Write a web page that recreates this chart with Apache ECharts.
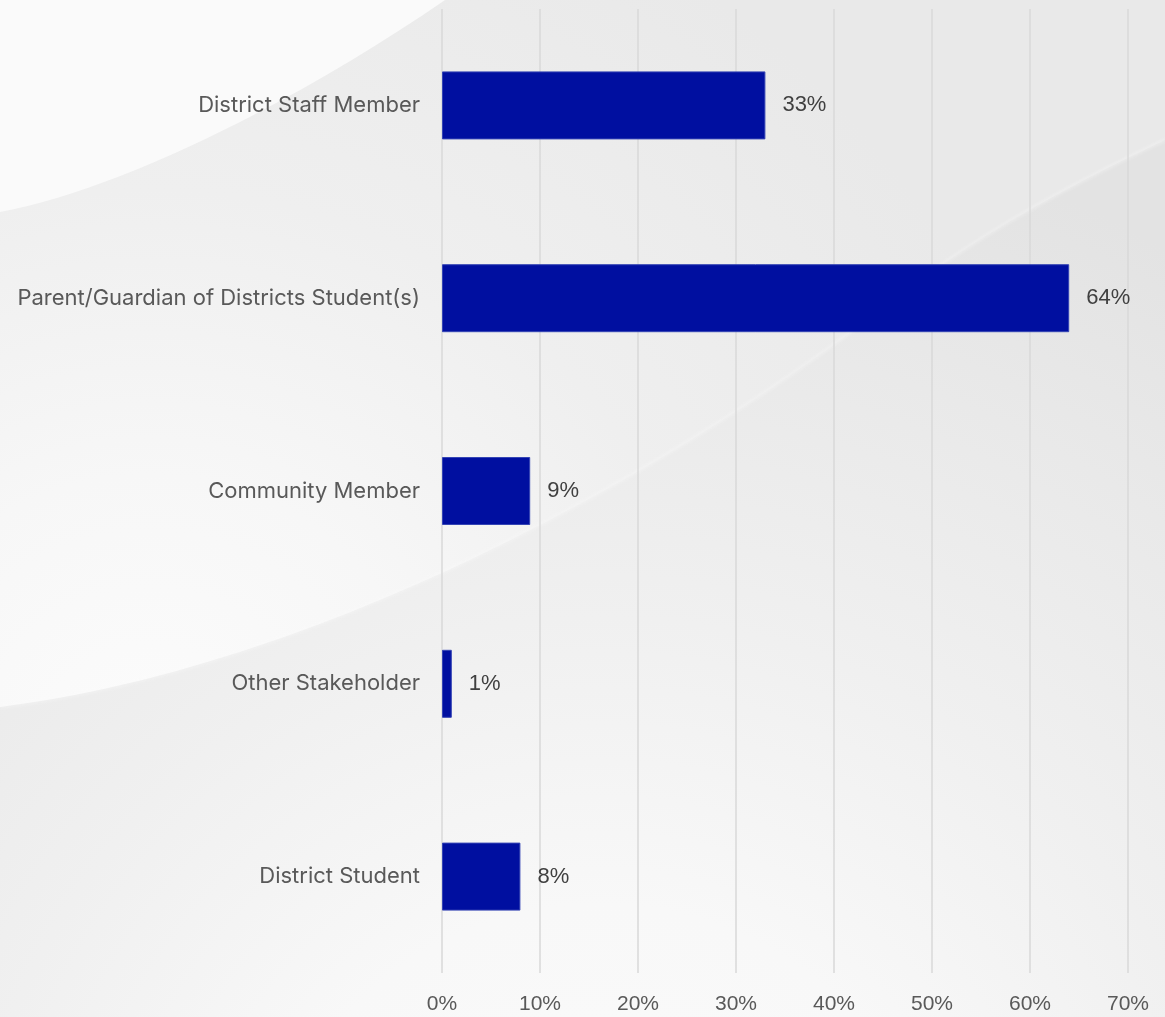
<!DOCTYPE html>
<html>
<head>
<meta charset="utf-8">
<script src="https://cdn.jsdelivr.net/npm/echarts@6/dist/echarts.min.js"></script>
<style>
  html, body { margin: 0; padding: 0; width: 1165px; height: 1017px; overflow: hidden; background: #eeeeee; }
  #bg { position: absolute; left: 0; top: 0; }
  #chart { position: absolute; left: 0; top: 0; width: 1165px; height: 1017px; }
</style>
</head>
<body>
<!-- soft grey backdrop with two sweeping light curves -->
<svg id="bg" width="1165" height="1017" xmlns="http://www.w3.org/2000/svg">
  <defs>
    <radialGradient id="upper" gradientUnits="userSpaceOnUse" cx="150" cy="760" r="950">
      <stop offset="0" stop-color="#fcfcfc"/>
      <stop offset="0.3" stop-color="#f7f7f7"/>
      <stop offset="0.6" stop-color="#efefef"/>
      <stop offset="1" stop-color="#e9e9e9"/>
    </radialGradient>
    <radialGradient id="lower" gradientUnits="userSpaceOnUse" cx="600" cy="1250" r="1150">
      <stop offset="0" stop-color="#fbfbfb"/>
      <stop offset="0.3" stop-color="#f8f8f8"/>
      <stop offset="0.55" stop-color="#f0f0f0"/>
      <stop offset="0.8" stop-color="#e9e9e9"/>
      <stop offset="1" stop-color="#e3e3e3"/>
    </radialGradient>
    <filter id="soft" x="-5%" y="-5%" width="110%" height="110%">
      <feGaussianBlur stdDeviation="1.5"/>
    </filter>
  </defs>
  <rect x="0" y="0" width="1165" height="1017" fill="url(#upper)"/>
  <path d="M0,707 C300,670 650,490 900,295 C980,233 1080,180 1165,140 L1165,1017 L0,1017 Z" fill="url(#lower)"/>
  <path d="M0,707 C300,670 650,490 900,295 C980,233 1080,180 1165,140" fill="none" stroke="#fbfbfb" stroke-width="2" opacity="0.45" filter="url(#soft)"/>
  <path d="M0,212 C120,190 300,100 445,0 L0,0 Z" fill="#fafafa"/>
</svg>
<div id="chart"></div>
<script>
// Respondent groups, top to bottom
const categories = [
  'District Staff Member',
  'Parent/Guardian of Districts Student(s)',
  'Community Member',
  'Other Stakeholder',
  'District Student'
];
// Share of respondents in each group (%)
const shares = [33, 64, 9, 1, 8];
// Percentage scale shown along the bottom
const axisMin = 0;
const axisMax = 70;
const axisStep = 10;

const chart = echarts.init(document.getElementById('chart'), null, { renderer: 'canvas' });

chart.setOption({
  backgroundColor: 'transparent',
  animation: false,
  grid: { left: 442, right: 37, top: 9, bottom: 44, containLabel: false },
  xAxis: {
    type: 'value',
    min: axisMin,
    max: axisMax,
    interval: axisStep,
    axisLine: { show: false },
    axisTick: { show: false },
    splitLine: { show: true, lineStyle: { color: '#d9d9d9', width: 1.5 } },
    axisLabel: {
      formatter: '{value}%',
      color: '#595959',
      fontSize: 21,
      fontFamily: '"Liberation Sans", Arial, sans-serif',
      margin: 21
    }
  },
  yAxis: {
    type: 'category',
    inverse: true,
    data: categories,
    axisLine: { show: false },
    axisTick: { show: false },
    splitLine: { show: false },
    axisLabel: {
      color: '#595959',
      fontSize: 22,
      fontFamily: 'Inter, "Noto Sans", sans-serif',
      margin: 22
    }
  },
  series: [{
    type: 'bar',
    data: shares,
    barWidth: 68,
    itemStyle: { color: '#000FA0', borderColor: '#3444b4', borderWidth: 1 },
    label: {
      show: true,
      position: 'right',
      distance: 17,
      formatter: '{c}%',
      color: '#404040',
      fontSize: 22,
      fontFamily: '"Liberation Sans", Arial, sans-serif'
    }
  }]
});
</script>
</body>
</html>
